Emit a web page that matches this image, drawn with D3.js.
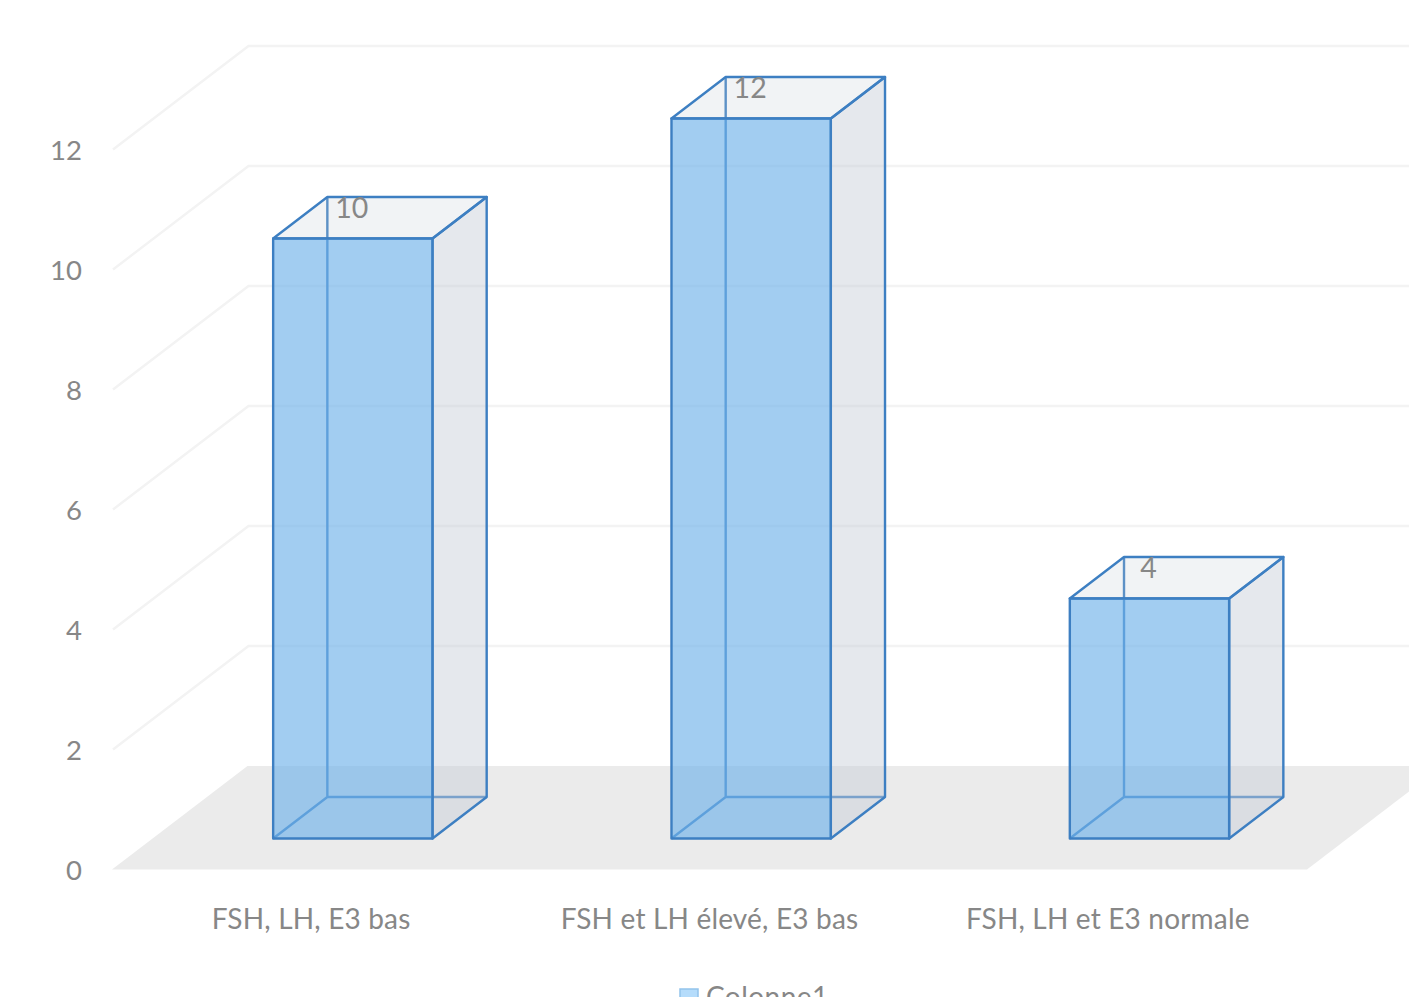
<!DOCTYPE html>
<html lang="fr">
<head>
<meta charset="utf-8">
<title>Colonne1</title>
<script src="https://cdn.jsdelivr.net/npm/d3@7/dist/d3.min.js"></script>
<style>
  html, body { margin: 0; padding: 0; background: #fff; overflow: hidden; }
  svg { display: block; }
  text { font-family: Lato, "Open Sans", sans-serif; fill: #878787; }
</style>
</head>
<body>
<svg id="chart" width="1409" height="997"></svg>
<script>
const categories = ["FSH, LH, E3 bas", "FSH et LH élevé, E3 bas", "FSH, LH et E3 normale"];
const values = [10, 12, 4];
const yTicks = [0, 2, 4, 6, 8, 10, 12];
const seriesName = "Colonne1";

const svg = d3.select("#chart");

// Oblique 3D frame: floor front edge, plus the shift from front to back of the floor.
const frontLeft = 112, frontRight = 1307, frontBase = 869.5;
const depthX = 135.5, depthY = -103.5;

const x = d3.scaleBand().domain(categories).range([frontLeft, frontRight]);
const y = d3.scaleLinear().domain([0, 12]).range([0, 720]);

// Project plot coordinates (plot x, value, depth 0..1) onto the page.
const project = (px, v, t) => [
  px + t * depthX,
  frontBase - y(v) + t * depthY
];
const poly = pts => "M" + pts.map(p => p.join(",")).join("L") + "Z";
const seg = (a, b) => "M" + a.join(",") + "L" + b.join(",");

// Floor
svg.append("path")
  .attr("d", poly([
    project(frontLeft, 0, 0), project(frontRight, 0, 0),
    project(frontRight, 0, 1), project(frontLeft, 0, 1)
  ]))
  .attr("fill", "#ebebeb");

// Gridlines along the side wall and across the back wall
const grid = svg.append("g").attr("fill", "none").attr("stroke", "#f3f3f3").attr("stroke-width", 2.4);
yTicks.filter(v => v > 0).forEach(v => {
  grid.append("path").attr("d",
    "M" + project(frontLeft + 1, v, 0).join(",") +
    "L" + project(frontLeft + 1, v, 1).join(",") +
    "L" + project(frontRight + 1, v, 1).join(","));
});

// Value axis drawn by d3, shifted onto the front edge of the side wall
const yAxisScale = d3.scaleLinear().domain([0, 12]).range([frontBase + 0.5, frontBase - 719.5]);
const yAxis = svg.append("g")
  .attr("transform", `translate(${frontLeft - 28},0)`)
  .call(d3.axisLeft(yAxisScale).tickValues(yTicks).tickSize(0).tickPadding(2));
yAxis.select(".domain").remove();
yAxis.selectAll("text")
  .attr("font-size", 27.5)
  .attr("dy", "0.34em")
  .style("font-family", "Lato, 'Open Sans', sans-serif")
  .attr("fill", "#878787");

// Category labels
svg.append("g").selectAll("text").data(categories).join("text")
  .attr("x", d => x(d) + x.bandwidth() / 2)
  .attr("y", 929)
  .attr("text-anchor", "middle")
  .attr("font-size", 28)
  .attr("letter-spacing", 0.18)
  .text(d => d);

// Bars: a box occupying the middle 40% of the slot in width and depth
const edge = "#3d7fc2";
const barW = x.bandwidth() * 0.4, t0 = 0.3, t1 = 0.7;
const bars = svg.append("g").selectAll("g")
  .data(categories.map((c, i) => ({ c, v: values[i] })))
  .join("g");

bars.each(function (d) {
  const g = d3.select(this);
  const x0 = x(d.c) + (x.bandwidth() - barW) / 2 + 1, x1 = x0 + barW;
  const P = project;

  // Hidden edges, seen through the translucent faces
  g.append("path")
    .attr("d", [
      seg(P(x0, 0, t1), P(x0, d.v, t1)),
      seg(P(x0, 0, t1), P(x1, 0, t1)),
      seg(P(x0, 0, t0), P(x0, 0, t1))
    ].join(""))
    .attr("fill", "none").attr("stroke", edge).attr("stroke-width", 2.4);

  // Right side face
  g.append("path")
    .attr("d", poly([P(x1, 0, t0), P(x1, 0, t1), P(x1, d.v, t1), P(x1, d.v, t0)]))
    .attr("fill", "rgba(197,204,215,0.45)")
    .attr("stroke", edge).attr("stroke-width", 2.4).attr("stroke-linejoin", "round");

  // Top face
  g.append("path")
    .attr("d", poly([P(x0, d.v, t0), P(x1, d.v, t0), P(x1, d.v, t1), P(x0, d.v, t1)]))
    .attr("fill", "rgba(197,204,215,0.24)")
    .attr("stroke", edge).attr("stroke-width", 2.4).attr("stroke-linejoin", "round");

  // Front face
  g.append("path")
    .attr("d", poly([P(x0, 0, t0), P(x1, 0, t0), P(x1, d.v, t0), P(x0, d.v, t0)]))
    .attr("fill", "rgba(112,178,234,0.65)")
    .attr("stroke", edge).attr("stroke-width", 2.4).attr("stroke-linejoin", "round");

  // Value label, lying on the top face
  const top = P(x0 + barW / 2, d.v, t0);
  g.append("text")
    .attr("x", top[0] - 1)
    .attr("y", top[1] - 20)
    .attr("text-anchor", "middle")
    .attr("font-size", 28.5)
    .text(d.v);
});

// Legend, running off the bottom of the page
const legend = svg.append("g");
legend.append("rect")
  .attr("x", 680).attr("y", 989).attr("width", 18).attr("height", 18)
  .attr("fill", "#b5dcfb").attr("stroke", "#93c3ec").attr("stroke-width", 1.5);
legend.append("text")
  .attr("x", 706).attr("y", 1007)
  .attr("font-size", 28)
  .attr("letter-spacing", 0.45)
  .text(seriesName);
</script>
</body>
</html>
